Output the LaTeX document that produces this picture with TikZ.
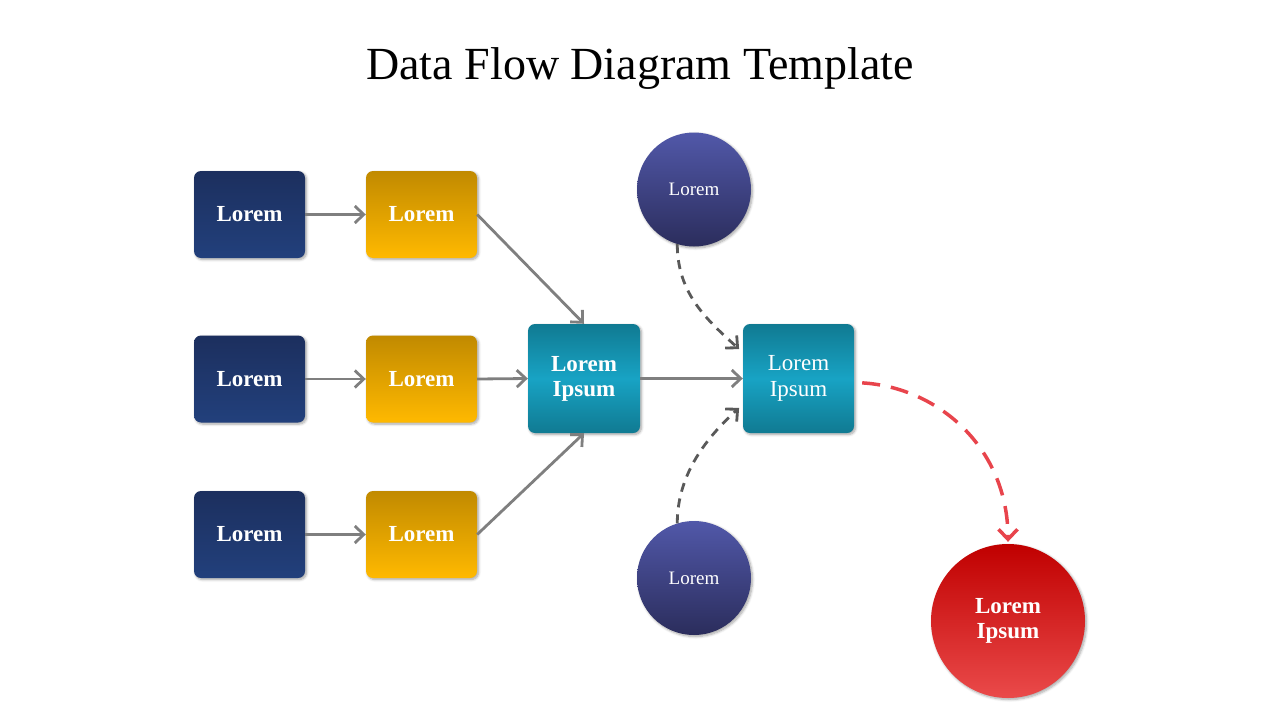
\documentclass[tikz,border=0pt]{standalone}
\usepackage{fontspec}
\setmainfont{Liberation Serif}
\usetikzlibrary{arrows.meta,shadows,shadows.blur}
\definecolor{navyTop}{HTML}{1C2F5E}
\definecolor{navyBot}{HTML}{22407C}
\definecolor{goldTop}{HTML}{C18A00}
\definecolor{goldBot}{HTML}{FFB900}
\definecolor{tealEdge}{HTML}{107A92}
\definecolor{tealMid}{HTML}{18A3C4}
\definecolor{purpTop}{HTML}{5158A9}
\definecolor{purpBot}{HTML}{2B2D5C}
\definecolor{redTop}{HTML}{C00000}
\definecolor{redBot}{HTML}{EA4A4A}
\definecolor{flowGray}{HTML}{7F7F7F}
\definecolor{dashGray}{HTML}{595959}
\definecolor{flowRed}{HTML}{E8444C}
\begin{document}
\begin{tikzpicture}[x=1pt,y=-1pt,
  shade/.style={blur shadow={shadow xshift=1.5pt,shadow yshift=-1.5pt,shadow opacity=35,shadow blur steps=6,shadow blur radius=2.5pt}},
  box/.style={shade,rounded corners=7pt,minimum width=111pt,minimum height=87pt,inner sep=0pt,text=white,align=center,font=\fontsize{23}{25}\selectfont\bfseries},
  navybox/.style={box,top color=navyTop,bottom color=navyBot},
  goldbox/.style={box,top color=goldTop,bottom color=goldBot},
  tealbox/.style={box,minimum height=109pt,top color=tealEdge,bottom color=tealEdge,middle color=tealMid},
  purpcirc/.style={shade,circle,minimum size=114pt,inner sep=0pt,text=white,top color=purpTop,bottom color=purpBot,font=\fontsize{19}{22}\selectfont},
  redcirc/.style={shade,circle,minimum size=154pt,inner sep=0pt,text=white,align=center,top color=redTop,bottom color=redBot,font=\fontsize{23}{25}\selectfont\bfseries},
  flow/.style={draw=flowGray,line width=2.8pt,-{Straight Barb[length=9pt,width=17pt]}},
  dflow/.style={draw=dashGray,line width=2.8pt,dash pattern=on 9pt off 7pt,-{Straight Barb[length=9pt,width=17pt]}},
  rflow/.style={draw=flowRed,line width=3.5pt,dash pattern=on 18pt off 11pt,-{Straight Barb[length=10pt,width=19pt]}}]
\useasboundingbox (0,0) rectangle (1280,720);
\node[font=\fontsize{46}{50}\selectfont] (title) at (640,69) {Data Flow Diagram Template};

\node[navybox] (b1) at (249.5,214.5) {Lorem};
\node[navybox] (b2) at (249.5,379) {Lorem};
\node[navybox] (b3) at (249.5,534.5) {Lorem};
\node[goldbox] (g1) at (421.5,214.5) {Lorem};
\node[goldbox] (g2) at (421.5,379) {Lorem};
\node[goldbox] (g3) at (421.5,534.5) {Lorem};
\node[tealbox,minimum width=112pt] (t1) at (584,378.5) {Lorem\\Ipsum};
\node[tealbox,font=\fontsize{23}{26}\selectfont] (t2) at (798.5,378.5) {Lorem\\Ipsum};
\node[purpcirc] (p1) at (694,189.5) {Lorem};
\node[purpcirc] (p2) at (694,578) {Lorem};
\node[redcirc] (r1) at (1008,621) {Lorem\\Ipsum};

\draw[flow] (b1.east) -- (g1.west);
\draw[flow] (b2.east) -- (g2.west);
\draw[flow] (b3.east) -- (g3.west);
\draw[flow] (g1.east) -- (t1.north);
\draw[flow] (g2.east) -- (t1.west);
\draw[flow] (g3.east) -- (t1.south);
\draw[flow] (t1.east) -- (t2.west);

\draw[dflow,shorten >=5pt] (p1.253) .. controls +(0,50) and +(-35,-32) .. (t2.155);
\draw[dflow,shorten >=5pt] (p2.107) .. controls +(0,-50) and +(-35,32) .. (t2.205);
\draw[rflow,shorten <=8pt,shorten >=2pt] (t2.-4) .. controls +(85,5) and +(0,-95) .. (r1.north);
\end{tikzpicture}
\end{document}
